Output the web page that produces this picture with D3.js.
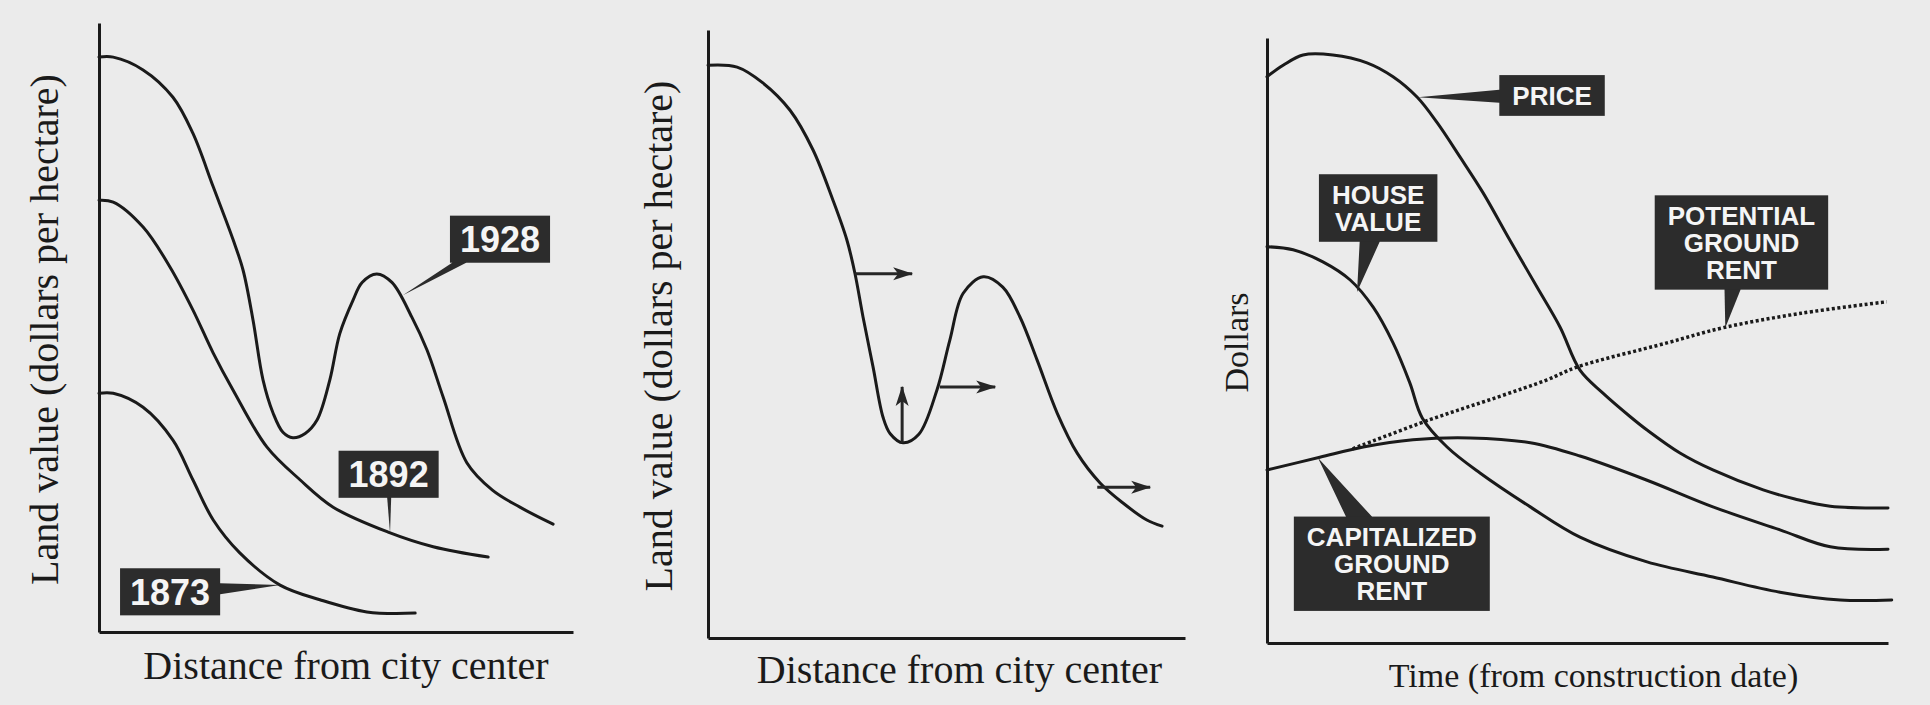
<!DOCTYPE html>
<html>
<head>
<meta charset="utf-8">
<script src="https://cdn.jsdelivr.net/npm/d3@7"></script>
<style>
  body { margin: 0; background: #ebebeb; }
  svg { display: block; }
  .axis path { stroke: #1a1a1a; stroke-width: 3; }
  .curve { fill: none; stroke: #1a1a1a; stroke-width: 3; stroke-linecap: round; }
  .dotted { fill: none; stroke: #1a1a1a; stroke-width: 3.5; stroke-dasharray: 3 2.5; }
  .title { font-family: "Liberation Serif", "Times New Roman", serif; fill: #1a1a1a; }
  .callout rect, .callout polygon { fill: #2c2c2c; }
  .callout text { font-family: "Liberation Sans", Arial, sans-serif; font-weight: bold; fill: #f5f5f5; }
</style>
</head>
<body>
<div id="chart"></div>
<script>
// ---- panel 1: land value curves by year (0-100 relative units)
const years = ['1873', '1892', '1928'];
const curve1873 = [[0, 39.2], [3, 39.2], [9.3, 36.9], [15.6, 31.5], [19.8, 25], [24.1, 18.4],
  [29.7, 13], [38.2, 7.7], [46.6, 5.3], [56.5, 3.3], [66.7, 3.1]];
const curve1892 = [[0, 70.9], [3, 70.6], [9.3, 66.5], [15, 59.9], [19.8, 52.9], [24.1, 45.8],
  [28.3, 39.7], [35.4, 30.4], [42.4, 25], [49.4, 20.5], [61, 16.4], [70.5, 14], [82.1, 12.3]];
const curve1928 = [[0, 94.4], [3, 94.4], [9.3, 92.3], [15.6, 87.8], [19.8, 81.9], [24.1, 73.1],
  [28.3, 64.4], [30.4, 59.4], [32.5, 51.2], [34.6, 41.4], [36.7, 36], [38.8, 32.8], [40.9, 31.9],
  [43.5, 32.6], [46, 34.8], [48.7, 41.4], [50.8, 49], [53.6, 54.5], [55.5, 57.4], [58.6, 58.8],
  [61.8, 57.4], [66, 51.7], [69.2, 46.3], [72.6, 38.6], [77.6, 27.8], [83, 23.3], [88.8, 20.5], [95.8, 17.7]];

// ---- panel 2: one land value curve plus shift arrows
const curveShift = [[0, 94.2], [6.1, 93.9], [11.5, 91.3], [17.2, 86.8], [22, 80.3], [26.2, 72],
  [29.1, 65.5], [30.8, 60], [32.5, 52.8], [34.6, 44.6], [36.7, 36.3], [38.2, 33.6], [40.9, 32.1],
  [44.2, 33.5], [48, 40.8], [50.7, 49], [53.5, 56.7], [57.7, 59.4], [61.8, 57.7], [65.4, 52.8],
  [69, 45.7], [73.2, 37], [77.4, 30.4], [82.2, 25.5], [87, 22.2], [92, 19.4], [95.2, 18.4]];
const shiftArrows = [
  [[30.8, 59.9], [42.8, 59.9]],
  [[48.6, 41.3], [60.2, 41.3]],
  [[40.7, 32.1], [40.7, 41.3]],
  [[81.6, 24.8], [92.7, 24.8]]
];

// ---- panel 3: values over time since construction
const priceCurve = [[0, 93.6], [2.6, 95.5], [5.8, 97.2], [10.6, 97.2], [16.1, 95.9], [20.3, 93.6],
  [24.2, 90.2], [27.4, 86], [31.1, 80.3], [34.8, 74.4], [39.1, 66.6], [43.5, 58.8], [47.2, 52.2],
  [50.4, 45.1], [54.1, 41.3], [58.5, 37.4], [61.2, 35.2], [66.5, 31.4], [71.8, 28.6], [79.9, 25.3],
  [85, 23.8], [90.7, 22.6], [100, 22.3]];
const houseCurve = [[0, 65.5], [4.2, 65], [9, 63], [13.4, 60], [17.1, 55.5], [20.3, 49.6],
  [23, 43], [25, 37.2], [29, 32.4], [34.3, 28.1], [42.4, 22.5], [50.4, 17.5], [61.2, 13.4],
  [71.8, 10.9], [82.6, 8.4], [92.3, 7.1], [100.6, 7.1]];
const capRentCurve = [[0, 28.6], [8.5, 30.7], [15.5, 32.4], [23.5, 33.6], [32.7, 33.9], [42.4, 33.1],
  [50.4, 30.9], [61.2, 26.9], [71.8, 22.5], [82.6, 18.7], [90.7, 15.9], [100, 15.5]];
const potentialRentCurve = [[13.8, 32.1], [26.2, 36.9], [37, 40.6], [45.1, 43.5], [49.9, 45.6],
  [64.4, 49.6], [73.4, 52.1], [86, 54.5], [99.8, 56.4]];

// titles
const yTitles = ['Land value (dollars per hectare)', 'Land value (dollars per hectare)', 'Dollars'];
const xTitles = ['Distance from city center', 'Distance from city center', 'Time (from construction date)'];

// callouts: box centre and pointer tip in data units
const callouts1 = [
  { lines: [years[2]], at: [84.6, 64.5], tip: [64.1, 55.3], base: 14, size: 36 },
  { lines: [years[1]], at: [61.1, 25.9], tip: [61.4, 16.2], base: 4, size: 36 },
  { lines: [years[0]], at: [15, 6.6], tip: [38.2, 7.7], base: 11, size: 36 }
];
const callouts3 = [
  { lines: ['PRICE'], at: [45.9, 90.5], tip: [24.3, 90.2], base: 13, size: 26 },
  { lines: ['HOUSE', 'VALUE'], at: [17.9, 71.9], tip: [14.5, 58], base: 20, size: 26 },
  { lines: ['POTENTIAL', 'GROUND', 'RENT'], at: [76.4, 66.2], tip: [73.8, 52.1], base: 16, size: 26 },
  { lines: ['CAPITALIZED', 'GROUND', 'RENT'], at: [20.1, 13.1], tip: [8.2, 30.6], base: 26, size: 26 }
];

const width = 1930;
const height = 705;

const svg = d3.select('#chart')
  .append('svg')
  .attr('width', width)
  .attr('height', height);

svg.append('defs').append('marker')
  .attr('id', 'head')
  .attr('viewBox', '0 -7 20 14')
  .attr('refX', 19)
  .attr('refY', 0)
  .attr('markerWidth', 20)
  .attr('markerHeight', 14)
  .attr('markerUnits', 'userSpaceOnUse')
  .attr('orient', 'auto')
  .append('path')
  .attr('d', 'M0,-6.5L20,0L0,6.5L5,0Z')
  .attr('fill', '#262626');

// panel frames (pixel extents of each pair of axes)
const panels = [
  { left: 99, right: 573, top: 23, bottom: 632, yTitleX: 58, xTitleY: 679, xShift: 10, font: 40 },
  { left: 708, right: 1185, top: 30, bottom: 638, yTitleX: 672, xTitleY: 683, xShift: 13, font: 40 },
  { left: 1267, right: 1888, top: 38, bottom: 643, yTitleX: 1248, xTitleY: 687, xShift: 16, font: 34 }
];

function makePanel(i) {
  const p = panels[i];
  const x = d3.scaleLinear().domain([0, 100]).range([p.left, p.right]);
  const y = d3.scaleLinear().domain([0, 100]).range([p.bottom, p.top]);
  const g = svg.append('g');

  g.append('g')
    .attr('class', 'axis')
    .attr('transform', `translate(${p.left},0)`)
    .call(d3.axisLeft(y).ticks(0).tickSizeOuter(0));
  g.append('g')
    .attr('class', 'axis')
    .attr('transform', `translate(0,${p.bottom})`)
    .call(d3.axisBottom(x).ticks(0).tickSizeOuter(0));

  g.append('text')
    .attr('class', 'title')
    .attr('text-anchor', 'middle')
    .style('font-size', p.font + 'px')
    .attr('transform', `translate(${p.yTitleX},${(p.top + p.bottom) / 2 + 2}) rotate(-90)`)
    .text(yTitles[i]);
  g.append('text')
    .attr('class', 'title')
    .attr('text-anchor', 'middle')
    .style('font-size', p.font + 'px')
    .attr('x', (x(0) + x(100)) / 2 + p.xShift)
    .attr('y', p.xTitleY)
    .text(xTitles[i]);

  return { g, x, y };
}

function drawCurve(panel, pts, cls) {
  const line = d3.line()
    .x((d) => panel.x(d[0]))
    .y((d) => panel.y(d[1]))
    .curve(d3.curveCatmullRom.alpha(0.5));
  panel.g.append('path')
    .datum(pts)
    .attr('class', cls || 'curve')
    .attr('d', line);
}

function drawCallouts(panel, list) {
  list.forEach((c) => {
    const cg = panel.g.append('g').attr('class', 'callout');
    const cx = panel.x(c.at[0]);
    const cy = panel.y(c.at[1]);
    const tx = panel.x(c.tip[0]);
    const ty = panel.y(c.tip[1]);
    const lh = c.size * 1.03;

    const poly = cg.append('polygon');
    const rect = cg.append('rect');
    const text = cg.append('text')
      .attr('text-anchor', 'middle')
      .style('font-size', c.size + 'px');
    c.lines.forEach((t, k) => {
      text.append('tspan')
        .attr('x', cx)
        .attr('y', cy + (k - (c.lines.length - 1) / 2) * lh + c.size * 0.36)
        .text(t);
    });

    const bb = text.node().getBBox();
    const padX = c.size > 30 ? 10 : 13;
    const hw = bb.width / 2 + padX;
    const hh = (c.lines.length * lh) / 2 + (c.size > 30 ? 5 : 7);
    rect.attr('x', cx - hw).attr('y', cy - hh).attr('width', hw * 2).attr('height', hh * 2);

    // where the line from the centre to the tip leaves the box
    const dx = tx - cx;
    const dy = ty - cy;
    const t = Math.min(Math.abs(hw / (dx || 1e-6)), Math.abs(hh / (dy || 1e-6)));
    const ex = cx + dx * t;
    const ey = cy + dy * t;
    const hb = c.base / 2;
    const alongX = Math.abs(hw / (dx || 1e-6)) > Math.abs(hh / (dy || 1e-6));
    const b1 = alongX ? [ex - hb, ey] : [ex, ey - hb];
    const b2 = alongX ? [ex + hb, ey] : [ex, ey + hb];
    const inset = alongX ? [0, -Math.sign(dy) * 4] : [-Math.sign(dx) * 4, 0];
    poly.attr('points', [
      [b1[0] + inset[0], b1[1] + inset[1]], b1, [tx, ty], b2, [b2[0] + inset[0], b2[1] + inset[1]]
    ].map((d) => d.join(',')).join(' '));
  });
}

// panel 1
const p1 = makePanel(0);
[curve1873, curve1892, curve1928].forEach((c) => drawCurve(p1, c));
drawCallouts(p1, callouts1);

// panel 2
const p2 = makePanel(1);
drawCurve(p2, curveShift);
p2.g.selectAll('line.arrow')
  .data(shiftArrows)
  .join('line')
  .attr('class', 'arrow')
  .attr('x1', (d) => p2.x(d[0][0]))
  .attr('y1', (d) => p2.y(d[0][1]))
  .attr('x2', (d) => p2.x(d[1][0]))
  .attr('y2', (d) => p2.y(d[1][1]))
  .attr('stroke', '#262626')
  .attr('stroke-width', 3)
  .attr('marker-end', 'url(#head)');

// panel 3
const p3 = makePanel(2);
drawCurve(p3, priceCurve);
drawCurve(p3, houseCurve);
drawCurve(p3, capRentCurve);
drawCurve(p3, potentialRentCurve, 'dotted');
drawCallouts(p3, callouts3);
</script>
</body>
</html>
